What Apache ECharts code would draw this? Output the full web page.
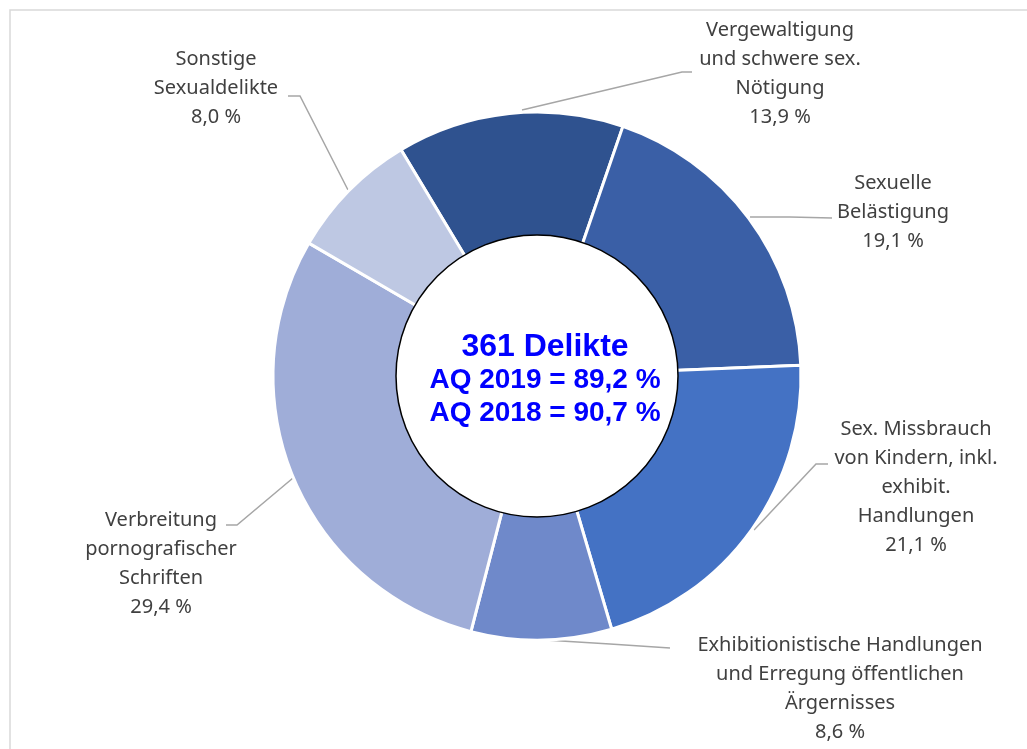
<!DOCTYPE html>
<html>
<head>
<meta charset="utf-8">
<script src="https://cdn.jsdelivr.net/npm/echarts@6/dist/echarts.min.js"></script>
<style>
  html, body { margin: 0; padding: 0; background: #fff; }
  #chart { width: 1027px; height: 749px; }
</style>
</head>
<body>
<div id="chart"></div>
<script>
// categories in clockwise order, starting near the top
const categories = [
  'Vergewaltigung\nund schwere sex.\nNötigung',
  'Sexuelle\nBelästigung',
  'Sex. Missbrauch\nvon Kindern, inkl.\nexhibit.\nHandlungen',
  'Exhibitionistische Handlungen\nund Erregung öffentlichen\nÄrgernisses',
  'Verbreitung\npornografischer\nSchriften',
  'Sonstige\nSexualdelikte'
];
const shares = [13.9, 19.1, 21.1, 8.6, 29.4, 8.0];
const colors = ['#2f528f', '#3a5fa6', '#4472c4', '#6f89ca', '#9fadd8', '#bec8e3'];
const centerLines = ['361 Delikte', 'AQ 2019 = 89,2 %', 'AQ 2018 = 90,7 %'];

// where Excel put each data label (centre of the text block) and its leader line
const labelSpots = [[780, 74], [893, 212], [916, 487], [840, 689], [161, 564], [216, 88]];
const leaderPaths = [
  [[522, 110], [682, 72], [692, 72]],
  [[750, 217], [790, 217], [832, 218]],
  [[754, 530], [816, 464], [828, 464]],
  [[545, 640], [610, 644], [670, 648]],
  [[293, 478], [237, 525], [226, 525]],
  [[348, 190], [300, 96], [288, 96]]
];

const chart = echarts.init(document.getElementById('chart'));

const fmt = (v) => v.toFixed(1).replace('.', ',') + ' %';

const option = {
  animation: false,
  backgroundColor: '#fff',
  graphic: [{
    type: 'rect',
    shape: { x: 10, y: 10, width: 1040, height: 760 },
    style: { fill: 'none', stroke: '#d9d9d9', lineWidth: 1.5 },
    silent: true
  }],
  series: [
    {
      type: 'pie',
      center: [537, 376],
      radius: [130, 264],
      startAngle: 121,
      clockwise: true,
      silent: true,
      itemStyle: { borderColor: '#fff', borderWidth: 3 },
      data: categories.map((name, i) => ({
        name: name,
        value: shares[i],
        itemStyle: { color: colors[i] }
      })),
      label: {
        show: true,
        position: 'outside',
        formatter: (p) => p.name + '\n' + fmt(p.value),
        color: '#404040',
        fontFamily: 'Noto Sans',
        fontSize: 20,
        lineHeight: 29,
        align: 'center'
      },
      labelLine: {
        show: true,
        length: 15,
        length2: 15,
        lineStyle: { color: '#a6a6a6', width: 1.5 }
      },
      labelLayout: (p) => ({
        x: labelSpots[p.dataIndex][0],
        y: labelSpots[p.dataIndex][1],
        align: 'center',
        verticalAlign: 'middle',
        labelLinePoints: leaderPaths[p.dataIndex]
      })
    },
    {
      type: 'pie',
      center: [537, 376],
      radius: [0, 141],
      silent: true,
      z: 5,
      data: [{ value: 1, name: 'centre' }],
      itemStyle: { color: '#fff', borderColor: '#000', borderWidth: 1.5 },
      labelLine: { show: false },
      label: {
        show: true,
        position: 'center',
        offset: [8, 4],
        formatter: '{a|' + centerLines[0] + '}\n{b|' + centerLines[1] + '}\n{b|' + centerLines[2] + '}',
        rich: {
          a: { fontFamily: 'Liberation Sans', fontWeight: 'bold', fontSize: 32, lineHeight: 34, color: '#0000ff' },
          b: { fontFamily: 'Liberation Sans', fontWeight: 'bold', fontSize: 28, lineHeight: 33, color: '#0000ff' }
        }
      }
    }
  ]
};

chart.setOption(option);
</script>
</body>
</html>
